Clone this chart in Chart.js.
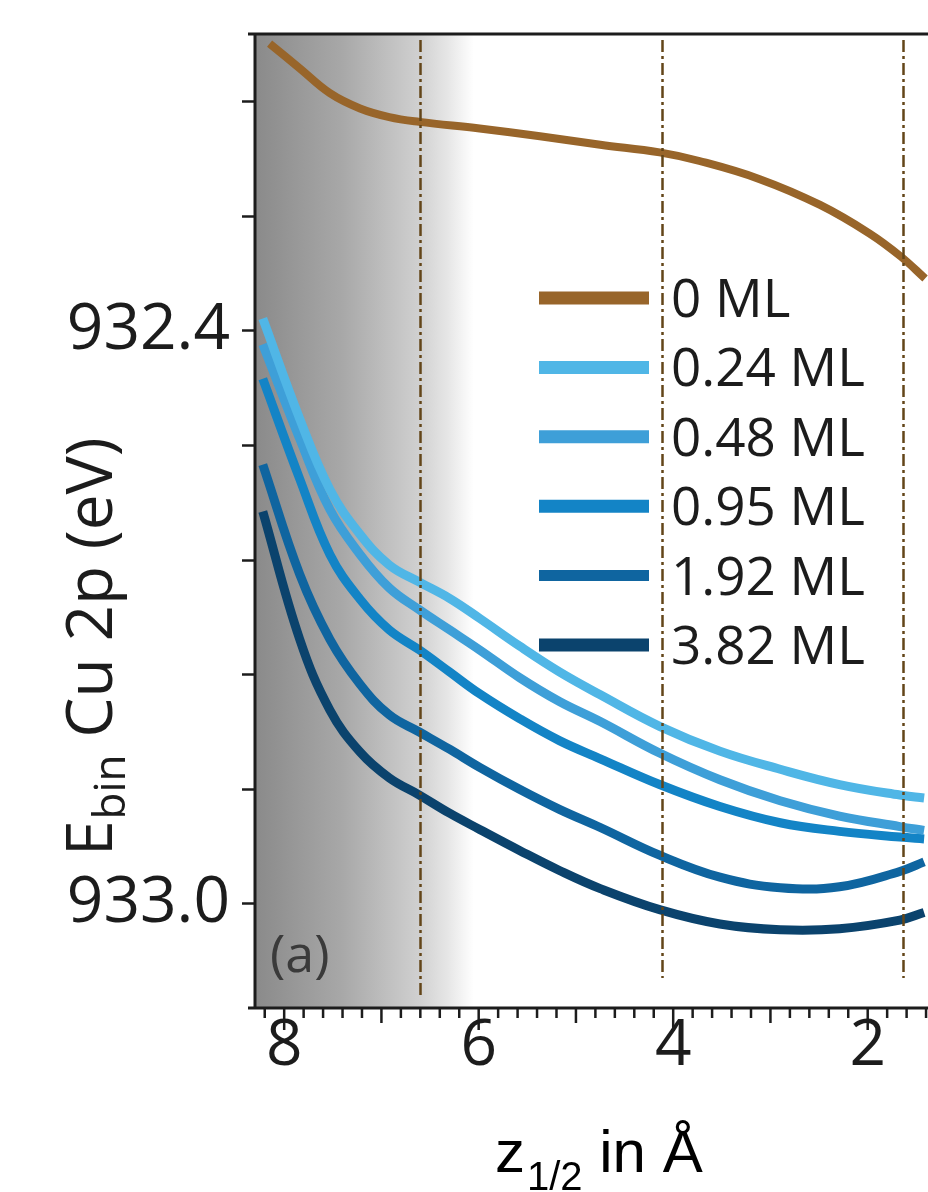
<!DOCTYPE html>
<html lang="en">
<head>
  <meta charset="UTF-8">
  <title>Cu 2p binding energy vs z1/2</title>
  <script src="https://cdn.jsdelivr.net/npm/chart.js"></script>
  <style>
    body {
      margin: 0;
      background: #fff;
    }
    .chart-box {
      position: relative;
      width: 928px;
      height: 1192px;
    }
  </style>
</head>
<body>
  <div class="chart-box">
    <canvas id="zChart"></canvas>
  </div>

  <script>
    // values
    const seriesLabels = ['0 ML', '0.24 ML', '0.48 ML', '0.95 ML', '1.92 ML', '3.82 ML'];
    const seriesColors = ['#98652a', '#50b6e6', '#3e9fd8', '#1384c6', '#0f65a0', '#0b436d'];

    // 0 ML curve (z in Angstrom, E in eV)
    const zBrown = [8.15, 7.84, 7.53, 7.22, 6.92, 6.61, 5.99, 5.37, 4.75, 4.14, 3.73, 3.11, 2.49, 1.98, 1.66, 1.41];
    const e0 = [932.099, 932.125, 932.151, 932.167, 932.176, 932.181, 932.188, 932.196, 932.205, 932.213, 932.222, 932.241, 932.268, 932.298, 932.322, 932.345];

    // covered samples share the same z grid
    const zBlue = [8.22, 7.84, 7.53, 7.22, 6.92, 6.61, 6.30, 5.99, 5.58, 5.17, 4.75, 4.14, 3.52, 2.90, 2.29, 1.67, 1.42];
    const e024 = [932.387, 932.492, 932.566, 932.613, 932.645, 932.663, 932.680, 932.701, 932.730, 932.757, 932.781, 932.814, 932.840, 932.859, 932.875, 932.886, 932.889];
    const e048 = [932.414, 932.513, 932.587, 932.634, 932.669, 932.692, 932.713, 932.734, 932.763, 932.788, 932.809, 932.842, 932.870, 932.892, 932.908, 932.919, 932.923];
    const e095 = [932.450, 932.555, 932.634, 932.681, 932.713, 932.734, 932.757, 932.780, 932.806, 932.829, 932.848, 932.875, 932.898, 932.915, 932.924, 932.930, 932.932];
    const e192 = [932.540, 932.655, 932.723, 932.770, 932.802, 932.820, 932.838, 932.857, 932.880, 932.901, 932.920, 932.949, 932.972, 932.983, 932.982, 932.966, 932.956];
    const e382 = [932.589, 932.723, 932.797, 932.841, 932.868, 932.886, 932.905, 932.922, 932.944, 932.965, 932.984, 933.006, 933.021, 933.027, 933.026, 933.017, 933.009];

    const yTickValues = [932.16, 932.28, 932.40, 932.52, 932.64, 932.76, 932.88, 933.00];
    const yTickLabels = ['932.4', '933.0'];
    const xLabelValues = [8, 6, 4, 2];
    const guideLines = [6.60, 4.11, 1.64];

    function pts(xs, ys) {
      return xs.map((x, i) => ({ x: x, y: ys[i] }));
    }

    const seriesData = [
      pts(zBrown, e0),
      pts(zBlue, e024),
      pts(zBlue, e048),
      pts(zBlue, e095),
      pts(zBlue, e192),
      pts(zBlue, e382)
    ];

    const INK = '#1c1c1c';
    const TEXT_FONT = '"Open Sans", sans-serif';

    // shading, frame, guide lines, legend and axis titles
    const decorPlugin = {
      id: 'decor',
      beforeDatasetsDraw(chart) {
        const { ctx, chartArea: a, scales: { x } } = chart;
        const x1 = x.getPixelForValue(6.05);
        const g = ctx.createLinearGradient(a.left, 0, x1, 0);
        g.addColorStop(0, '#8a8a8a');
        g.addColorStop(0.4, '#a8a8a8');
        g.addColorStop(0.75, '#d0d0d0');
        g.addColorStop(0.88, '#e6e6e6');
        g.addColorStop(1, '#ffffff');
        ctx.save();
        ctx.fillStyle = g;
        ctx.fillRect(a.left, a.top, x1 - a.left, a.bottom - a.top);
        ctx.restore();
      },
      afterDatasetsDraw(chart) {
        const { ctx, chartArea: a, scales: { x } } = chart;
        ctx.save();

        // dash-dot guide lines
        ctx.strokeStyle = '#634519';
        ctx.lineWidth = 2.5;
        ctx.setLineDash([12, 4, 3, 4]);
        guideLines.forEach((v, i) => {
          const px = Math.round(x.getPixelForValue(v)) + 0.5;
          ctx.beginPath();
          ctx.moveTo(px, a.top + 6);
          ctx.lineTo(px, a.bottom - (i === 0 ? 13 : 30));
          ctx.stroke();
        });
        ctx.setLineDash([]);

        // legend
        const ds = chart.data.datasets;
        ds.forEach((d, i) => {
          const cy = 298 + i * 69.4;
          ctx.strokeStyle = d.borderColor;
          ctx.lineWidth = i === 4 ? 11 : 13;
          ctx.beginPath();
          ctx.moveTo(539, cy);
          ctx.lineTo(649, cy);
          ctx.stroke();
          ctx.fillStyle = INK;
          ctx.font = '53px ' + TEXT_FONT;
          ctx.textAlign = 'left';
          ctx.textBaseline = 'alphabetic';
          ctx.fillText(d.label, 671, cy + 19);
        });

        // panel label
        ctx.fillStyle = '#3a3a3a';
        ctx.font = '52px ' + TEXT_FONT;
        ctx.fillText('(a)', 270, 972);
        ctx.restore();
      },
      afterDraw(chart) {
        const { ctx, chartArea: a, scales: { x } } = chart;
        ctx.save();
        ctx.strokeStyle = INK;
        ctx.lineWidth = 3;
        ctx.beginPath();
        ctx.moveTo(248, a.top);
        ctx.lineTo(a.right, a.top);
        ctx.moveTo(a.left, a.top);
        ctx.lineTo(a.left, a.bottom);
        ctx.moveTo(248, a.bottom);
        ctx.lineTo(a.right, a.bottom);
        ctx.stroke();

        // x tick marks: long at even, medium at odd, short every 0.2
        ctx.lineWidth = 2.5;
        x.ticks.forEach(t => {
          const px = x.getPixelForValue(t.value);
          const r = Math.round(t.value);
          let len = 10;
          if (Math.abs(t.value - r) < 1e-6) len = (r % 2 === 0) ? 22 : 15;
          ctx.beginPath();
          ctx.moveTo(px, a.bottom);
          ctx.lineTo(px, a.bottom + len);
          ctx.stroke();
        });

        // x title: z_1/2 in Å
        ctx.fillStyle = '#000';
        ctx.textAlign = 'left';
        ctx.textBaseline = 'alphabetic';
        let cx = 495;
        ctx.font = '60px "Liberation Sans", Arial, sans-serif';
        ctx.fillText('z', cx, 1172);
        cx += ctx.measureText('z').width + 2;
        ctx.font = '40px "Liberation Sans", Arial, sans-serif';
        ctx.fillText('1/2', cx, 1190);
        cx += ctx.measureText('1/2').width;
        ctx.font = '60px "Liberation Sans", Arial, sans-serif';
        ctx.fillText(' in Å', cx, 1172);

        // y title: E_bin Cu 2p (eV), rotated
        ctx.translate(112, 856);
        ctx.rotate(-Math.PI / 2);
        ctx.fillStyle = INK;
        let ty = 0;
        ctx.font = '64px ' + TEXT_FONT;
        ctx.fillText('E', ty, 0);
        ty += ctx.measureText('E').width + 1;
        ctx.font = '44px ' + TEXT_FONT;
        ctx.fillText('bin', ty, 13);
        ty += ctx.measureText('bin').width;
        ctx.font = '64px ' + TEXT_FONT;
        ctx.fillText(' Cu 2p (eV)', ty, 0);
        ctx.restore();
      }
    };

    const ctx = document.getElementById('zChart').getContext('2d');

    const zChart = new Chart(ctx, {
      type: 'line',
      data: {
        datasets: seriesData.map((d, i) => ({
          label: seriesLabels[i],
          data: d,
          borderColor: seriesColors[i],
          borderWidth: i === 0 ? 8 : 9,
          pointRadius: 0,
          fill: false,
          tension: 0.4,
          borderCapStyle: 'butt'
        }))
      },
      options: {
        responsive: true,
        maintainAspectRatio: false,
        animation: false,
        layout: {
          padding: { top: 34, right: 0, left: 0, bottom: 0 }
        },
        plugins: {
          legend: { display: false },
          tooltip: { enabled: false }
        },
        scales: {
          x: {
            type: 'linear',
            reverse: true,
            min: 1.38,
            max: 8.30,
            afterFit(scale) {
              scale.height = 184;
              scale.paddingLeft = 0;
              scale.paddingRight = 0;
            },
            afterBuildTicks(scale) {
              const ticks = [];
              for (let k = 7; k <= 41; k++) ticks.push({ value: Math.round(k * 2) / 10 });
              scale.ticks = ticks.filter(t => t.value >= 1.38 && t.value <= 8.30);
            },
            grid: { display: false, drawTicks: false },
            border: { display: false },
            ticks: {
              autoSkip: false,
              maxRotation: 0,
              padding: 0,
              color: INK,
              font: { family: TEXT_FONT, size: 64 },
              callback: (v) => xLabelValues.find(m => Math.abs(m - v) < 1e-6) !== undefined ? String(Math.round(v)) : ''
            }
          },
          y: {
            type: 'linear',
            reverse: true,
            min: 932.089,
            max: 933.109,
            afterFit(scale) {
              scale.width = 255;
              scale.paddingTop = 0;
              scale.paddingBottom = 0;
            },
            afterBuildTicks(scale) {
              scale.ticks = yTickValues.map(v => ({ value: v }));
            },
            grid: {
              display: true,
              drawOnChartArea: false,
              drawTicks: true,
              tickLength: 13,
              tickWidth: 2.5,
              tickColor: INK
            },
            border: { display: false },
            ticks: {
              autoSkip: false,
              padding: 12,
              color: INK,
              font: { family: TEXT_FONT, size: 64 },
              callback: (v) => {
                const s = Number(v).toFixed(1);
                return (yTickLabels.includes(s) && Math.abs(Number(s) - v) < 1e-6) ? s : '';
              }
            }
          }
        }
      },
      plugins: [decorPlugin]
    });
  </script>
</body>
</html>
